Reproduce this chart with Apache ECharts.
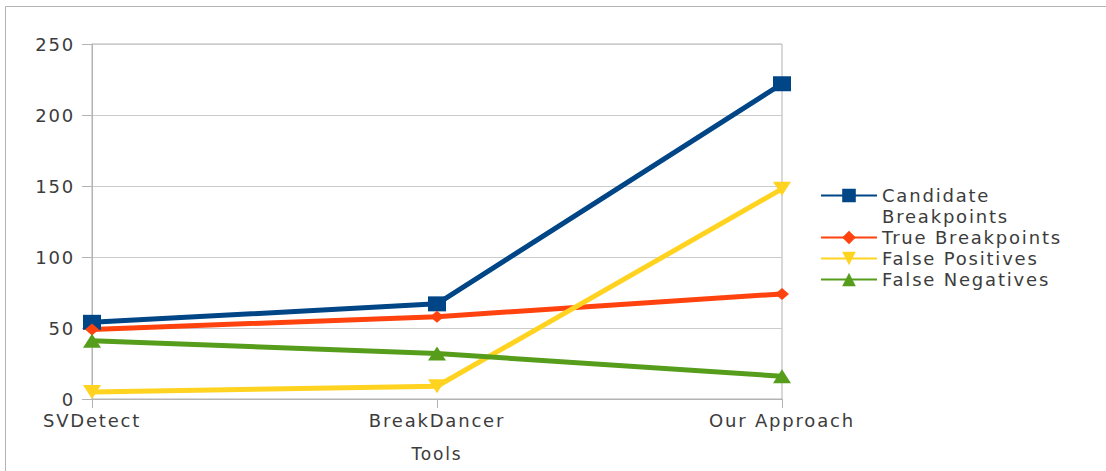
<!DOCTYPE html>
<html>
<head>
<meta charset="utf-8">
<script src="https://cdn.jsdelivr.net/npm/echarts@6/dist/echarts.min.js"></script>
<style>
  html, body { margin: 0; padding: 0; background: #fff; }
  #chart { width: 1106px; height: 471px; }
  /* wide, airy lettering for all chart text */
  #chart svg text { letter-spacing: 1.8px; }
</style>
</head>
<body>
<div id="chart"></div>
<script>
// Breakpoint counts per tool
const tools = ['SVDetect', 'BreakDancer', 'Our Approach'];
const candidateBreakpoints = [54, 67, 222];
const trueBreakpoints = [49, 58, 74];
const falsePositives = [5, 9, 148];
const falseNegatives = [41, 32, 16];
const yTicks = { min: 0, max: 250, interval: 50 };

const font = 'DejaVu Sans, Verdana, sans-serif';
const textColor = '#3c3c3c';

const chart = echarts.init(document.getElementById('chart'), null, { renderer: 'svg' });

function lineSeries(name, data, color, symbol, size) {
  return {
    name: name,
    type: 'line',
    data: data,
    symbol: symbol,
    symbolSize: size,
    symbolKeepAspect: false,
    showSymbol: true,
    lineStyle: { width: 5, color: color },
    itemStyle: { color: color },
    emphasis: { disabled: true },
    animation: false
  };
}

chart.setOption({
  backgroundColor: '#ffffff',
  textStyle: { fontFamily: font },
  graphic: [
    { type: 'line', shape: { x1: 5.5, y1: 6.5, x2: 1106, y2: 6.5 }, style: { stroke: '#b3b3b3', lineWidth: 1 } },
    { type: 'line', shape: { x1: 5.5, y1: 6.5, x2: 5.5, y2: 471 }, style: { stroke: '#b3b3b3', lineWidth: 1 } }
  ],
  grid: {
    left: 92, right: 324, top: 44, bottom: 72,
    show: true, borderColor: '#b3b3b3', borderWidth: 1, backgroundColor: 'transparent'
  },
  legend: {
    orient: 'vertical',
    left: 820,
    top: 164,
    padding: 0,
    itemGap: 0,
    itemWidth: 56,
    itemHeight: 17,
    textStyle: { fontFamily: font, fontSize: 18, color: textColor, lineHeight: 21 },
    data: ['Candidate Breakpoints', 'True Breakpoints', 'False Positives', 'False Negatives'],
    // the long name wraps; a leading blank line keeps its first line level with the icon
    formatter: function (name) {
      return name === 'Candidate Breakpoints' ? '\nCandidate\nBreakpoints' : name;
    }
  },
  xAxis: {
    type: 'category',
    data: tools,
    boundaryGap: false,
    name: 'Tools',
    nameLocation: 'middle',
    nameGap: 46,
    nameTextStyle: { fontFamily: font, fontSize: 17, color: textColor },
    axisLine: { show: true, lineStyle: { color: '#b3b3b3', width: 1 } },
    axisTick: { show: true, inside: false, length: 9, alignWithLabel: true, interval: 0, lineStyle: { color: '#b3b3b3' } },
    axisLabel: { fontFamily: font, fontSize: 18, color: textColor, margin: 12, interval: 0 },
    splitLine: { show: false }
  },
  yAxis: {
    type: 'value',
    min: yTicks.min,
    max: yTicks.max,
    interval: yTicks.interval,
    axisLine: { show: true, lineStyle: { color: '#b3b3b3', width: 1 } },
    axisTick: { show: true, inside: false, length: 10, lineStyle: { color: '#b3b3b3' } },
    axisLabel: { fontFamily: font, fontSize: 18, color: textColor, margin: 17 },
    splitLine: { show: true, lineStyle: { color: '#cccccc', width: 1 } }
  },
  series: [
    lineSeries('Candidate Breakpoints', candidateBreakpoints, '#004586', 'rect', [18, 15]),
    lineSeries('True Breakpoints', trueBreakpoints, '#ff420e', 'diamond', [14, 12]),
    lineSeries('False Positives', falsePositives, '#ffd320', 'path://M0,0 L2,0 L1,1.55 Z', [18, 14]),
    lineSeries('False Negatives', falseNegatives, '#579d1c', 'triangle', [18, 14])
  ]
});
</script>
</body>
</html>
